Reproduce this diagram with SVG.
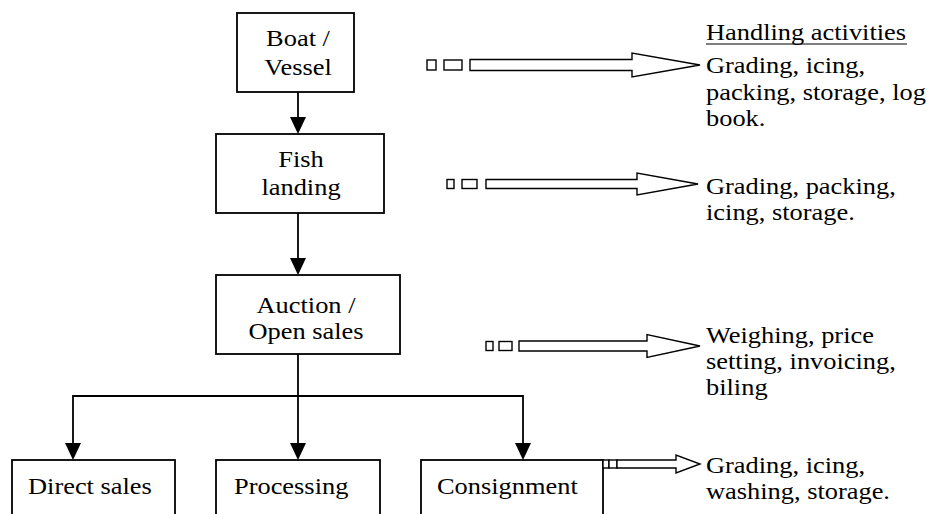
<svg xmlns="http://www.w3.org/2000/svg" width="932" height="514" viewBox="0 0 932 514">
<defs>
<style>
.box{fill:#fff;stroke:#000;stroke-width:1.8}
.ln{fill:none;stroke:#000;stroke-width:1.8}
.ah{fill:#000;stroke:none}
.ba{fill:#fff;stroke:#000;stroke-width:1.4}
.t{font-family:"Liberation Serif","Times New Roman",serif;font-size:24px;fill:#000}
.c{text-anchor:middle}
</style>
</defs>
<g id="boat">
<rect class="box" x="237" y="13" width="117" height="79"/>
<text class="t c" transform="translate(298,46) scale(1.1,1)">Boat /</text>
<text class="t c" transform="translate(298,75) scale(1.1,1)">Vessel</text>
</g>
<g id="fish">
<rect class="box" x="216" y="134" width="168" height="79"/>
<text class="t c" transform="translate(301,167) scale(1.1,1)">Fish</text>
<text class="t c" transform="translate(301,195) scale(1.1,1)">landing</text>
</g>
<g id="auction">
<rect class="box" x="216" y="275" width="184" height="79"/>
<text class="t c" transform="translate(306,313) scale(1.1,1)">Auction /</text>
<text class="t c" transform="translate(306,339) scale(1.1,1)">Open sales</text>
</g>
<g id="direct">
<rect class="box" x="12" y="460" width="163" height="70"/>
<text class="t" transform="translate(28,494) scale(1.1,1)">Direct sales</text>
</g>
<g id="processing">
<rect class="box" x="216" y="460" width="164" height="70"/>
<text class="t" transform="translate(234,494) scale(1.1,1)">Processing</text>
</g>
<g id="consignment">
<rect class="box" x="421" y="460" width="182" height="70"/>
<text class="t" transform="translate(437,494) scale(1.1,1)">Consignment</text>
</g>
<g id="connectors">
<line class="ln" x1="298" y1="92" x2="298" y2="120"/>
<polygon class="ah" points="290,117 306,117 298,134"/>
<line class="ln" x1="298" y1="213" x2="298" y2="261"/>
<polygon class="ah" points="290,258 306,258 298,275"/>
<polyline class="ln" points="298,354 298,396"/>
<polyline class="ln" points="73,445 73,396 523,396 523,445"/>
<line class="ln" x1="298" y1="396" x2="298" y2="445"/>
<polygon class="ah" points="65,443 81,443 73,460"/>
<polygon class="ah" points="290,443 306,443 298,460"/>
<polygon class="ah" points="515,443 531,443 523,460"/>
</g>
<g id="arrow1">
<rect class="ba" x="427" y="60" width="9" height="10"/>
<rect class="ba" x="444" y="60" width="18" height="10"/>
<path class="ba" d="M470,59.5 L632,59.5 L632,53 L700,65 L632,77 L632,70.5 L470,70.5 Z"/>
</g>
<g id="arrow2">
<rect class="ba" x="447" y="179.5" width="7" height="9"/>
<rect class="ba" x="462" y="179.5" width="15" height="9"/>
<path class="ba" d="M486,179.5 L637,179.5 L637,173 L698,184 L637,195 L637,188.5 L486,188.5 Z"/>
</g>
<g id="arrow3">
<rect class="ba" x="486" y="341.5" width="7" height="9"/>
<rect class="ba" x="499" y="341.5" width="13" height="9"/>
<path class="ba" d="M519,341 L647,341 L647,334.5 L700,346 L647,357.5 L647,351 L519,351 Z"/>
</g>
<g id="arrow4">
<rect class="ba" x="603" y="460" width="6" height="8"/>
<rect class="ba" x="609" y="460" width="8" height="8"/>
<path class="ba" d="M617,460 L676,460 L676,455 L700,464 L676,473 L676,468 L617,468 Z"/>
</g>
<g id="activities">
<text class="t" transform="translate(706,40) scale(1.1,1)">Handling activities</text>
<line x1="706" y1="44" x2="907" y2="44" stroke="#000" stroke-width="1.2"/>
<text class="t" transform="translate(706,73) scale(1.1,1)">Grading, icing,</text>
<text class="t" transform="translate(706,100) scale(1.1,1)">packing, storage, log</text>
<text class="t" transform="translate(706,126) scale(1.1,1)">book.</text>
<text class="t" transform="translate(706,194) scale(1.1,1)">Grading, packing,</text>
<text class="t" transform="translate(706,220) scale(1.1,1)">icing, storage.</text>
<text class="t" transform="translate(706,343) scale(1.1,1)">Weighing, price</text>
<text class="t" transform="translate(706,369) scale(1.1,1)">setting, invoicing,</text>
<text class="t" transform="translate(706,395) scale(1.1,1)">biling</text>
<text class="t" transform="translate(706,473) scale(1.1,1)">Grading, icing,</text>
<text class="t" transform="translate(706,499) scale(1.1,1)">washing, storage.</text>
</g>
</svg>
